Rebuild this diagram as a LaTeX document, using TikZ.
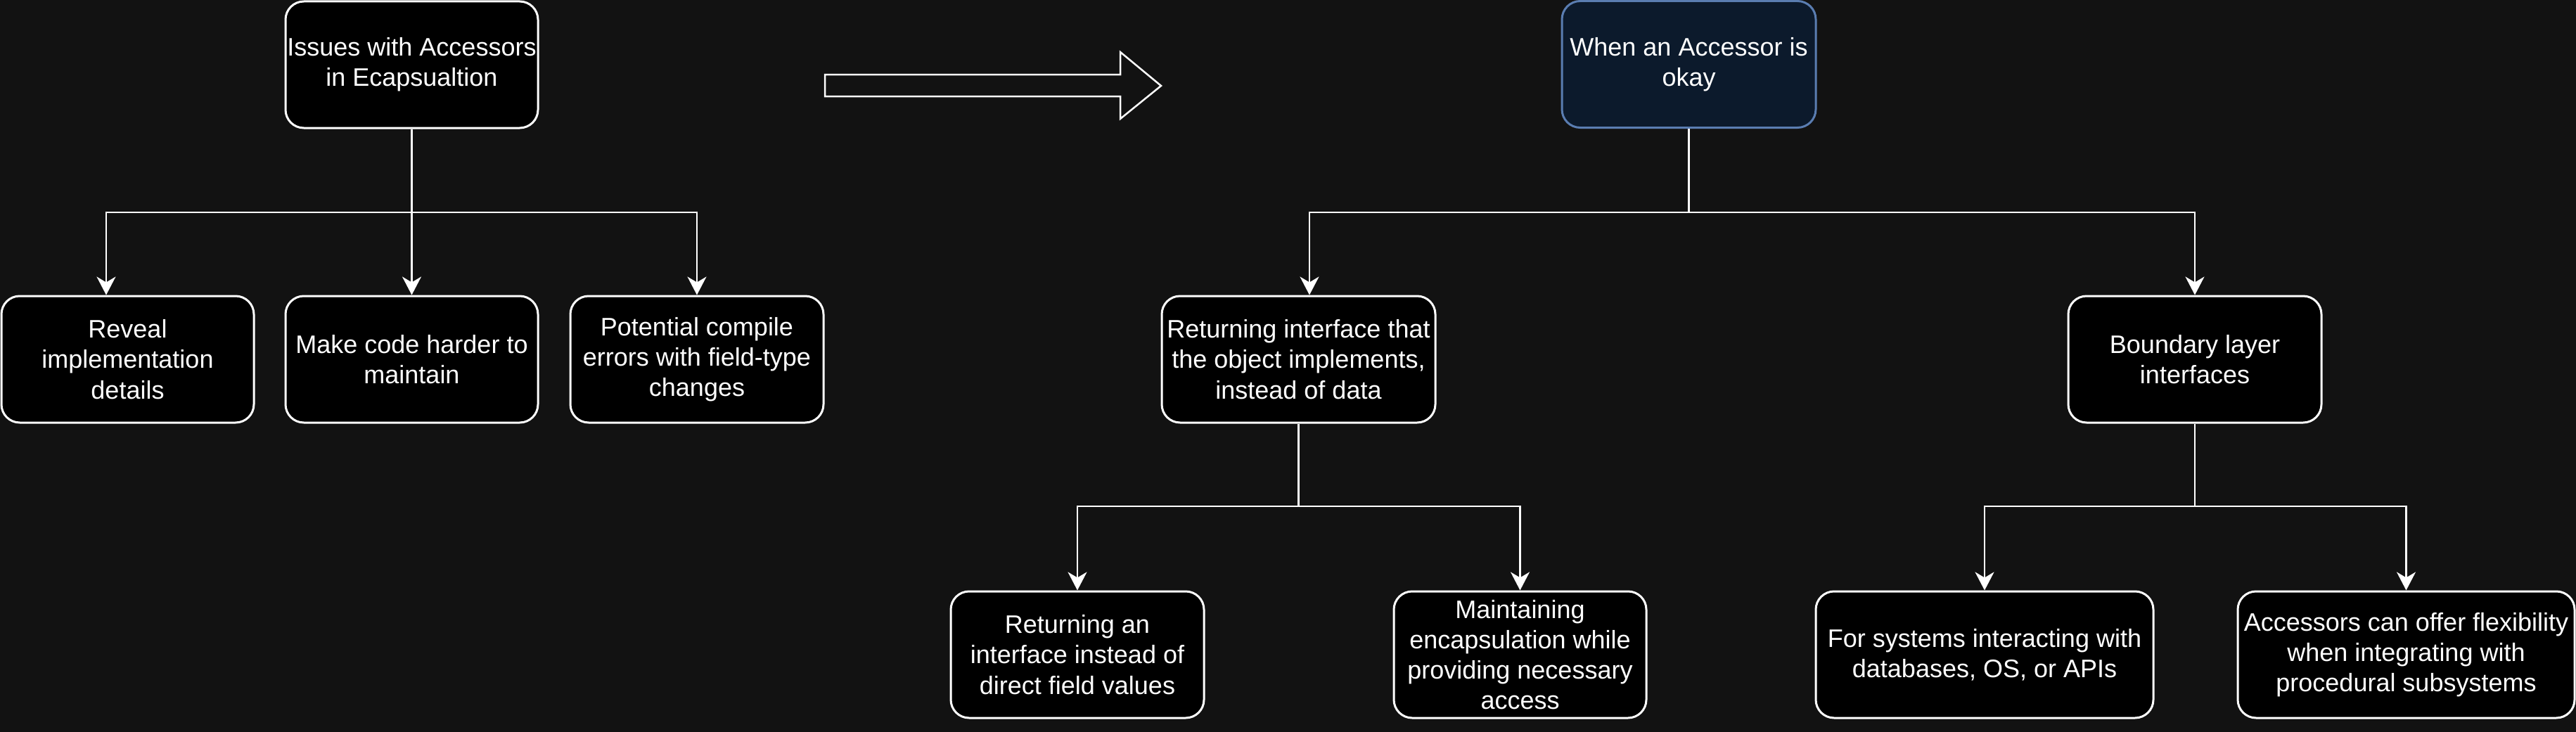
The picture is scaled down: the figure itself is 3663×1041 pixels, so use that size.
\documentclass[tikz,border=0pt]{standalone}
\usepackage{fontspec}
\setmainfont{Liberation Sans}
\usetikzlibrary{arrows.meta}
\definecolor{bgc}{RGB}{18,18,18}
\definecolor{whenfill}{RGB}{12,26,44}
\definecolor{whenline}{RGB}{90,125,177}
\tikzset{
  box/.style={draw=white, fill=black, line width=3pt, rounded corners=26pt,
    inner sep=0pt, align=center, text=white,
    font=\fontsize{36}{43.2}\selectfont, minimum height=180pt},
  conn/.style={draw=white, line width=2.8pt,
    -{Stealth[length=26pt,width=27pt,inset=8pt]}},
  plainline/.style={draw=white, line width=2.8pt},
}
\begin{document}
\begin{tikzpicture}[x=1pt,y=-1pt]
\fill[bgc] (0,0) rectangle (3663,1041);
\useasboundingbox (0,0) rectangle (3663,1041);

% left tree
\node[box, minimum width=359pt] (iss) at (585.5,92) {Issues with Accessors\\in Ecapsualtion};
\node[box, minimum width=359pt] (rev) at (181.5,511) {Reveal\\implementation\\details};
\node[box, minimum width=359pt] (mak) at (585.5,511) {Make code harder to\\maintain};
\node[box, minimum width=360pt] (pot) at (991,511) {Potential compile\\errors with field-type\\changes};

% right tree
\node[box, draw=whenline, fill=whenfill, minimum width=361pt] (when) at (2401.5,91.5) {When an Accessor is\\okay};
\node[box, minimum width=389pt] (ret) at (1846.5,511) {Returning interface that\\the object implements,\\instead of data};
\node[box, minimum width=360pt] (bnd) at (3121,511) {Boundary layer\\interfaces};
\node[box, minimum width=360pt] (ran) at (1532,931) {Returning an\\interface instead of\\direct field values};
\node[box, minimum width=359pt] (mnt) at (2161.5,931) {Maintaining\\encapsulation while\\providing necessary\\access};
\node[box, minimum width=480pt] (sys) at (2822,931) {For systems interacting with\\databases, OS, or APIs};
\node[box, minimum width=479pt] (acc) at (3421.5,931) {Accessors can offer flexibility\\when integrating with\\procedural subsystems};

% level coordinates
\coordinate (la) at (0,302);
\coordinate (lb) at (0,720);

% block arrow
\draw[white, line width=2.5pt, fill=bgc, line join=miter]
  (1173,106) -- (1593,106) -- (1593,74) -- (1651,122) -- (1593,169)
  -- (1593,137) -- (1173,137) -- cycle;

% left connectors
\draw[conn] (iss.south) -- (iss.south |- la) -| ([xshift=-30.5pt]rev.north);
\draw[conn] (iss.south) -- (mak.north);
\draw[conn] (iss.south) -- (iss.south |- la) -| (pot.north);

% right connectors
\draw[conn] (when.south) -- (when.south |- la) -| ([xshift=15.5pt]ret.north);
\draw[conn] (when.south) -- (when.south |- la) -| (bnd.north);
\draw[conn] (ret.south) -- (ret.south |- lb) -| (ran.north);
\draw[conn] (ret.south) -- (ret.south |- lb) -| (mnt.north);
\draw[conn] (bnd.south) -- (bnd.south |- lb) -| (sys.north);
\draw[conn] (bnd.south) -- (bnd.south |- lb) -| (acc.north);
\end{tikzpicture}
\end{document}
